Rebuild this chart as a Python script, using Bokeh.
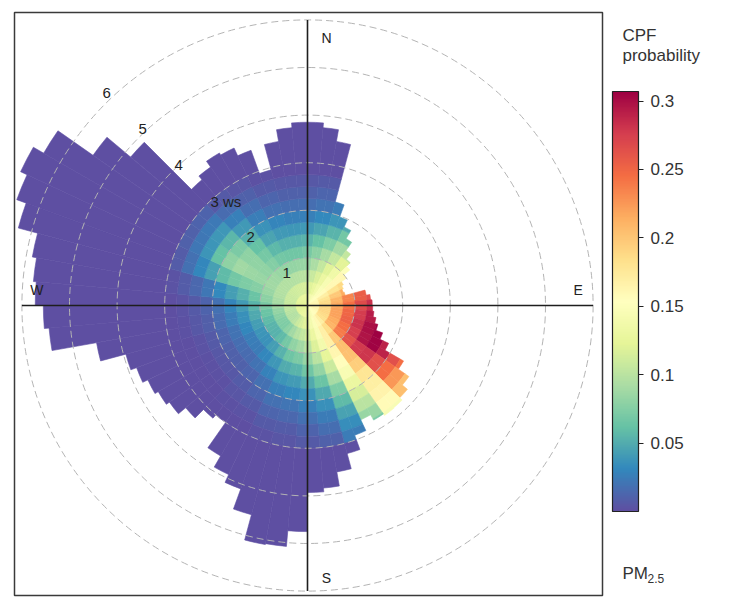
import math
from bokeh.plotting import figure
from bokeh.models import (ColumnDataSource, LinearColorMapper, ColorBar, FixedTicker,
                          CustomJSTickFormatter, Label, Range1d)
from bokeh.transform import transform
from bokeh.core.properties import value
from bokeh.embed import file_html
from bokeh.resources import INLINE

# ---------------- data ----------------
# CPF probability on a polar grid: rows = wind direction bins (centre, deg, 10 deg wide),
# columns = wind speed bins with the edges below (ws units)
COLOR_DIRS = list(range(0, 360, 10))
WS_EDGES = [0.0, 0.25, 0.5, 0.75, 1.0, 1.25, 1.5, 1.75, 2.0, 2.25, 2.5, 2.75, 3.0]
CPF = [
    [0.130, 0.115, 0.100, 0.085, 0.070, 0.055, 0.040, 0.027, 0.017, 0.010, 0.005, 0.000],  # 0
    [0.135, 0.120, 0.107, 0.093, 0.078, 0.062, 0.046, 0.032, 0.020, 0.012, 0.006, 0.000],  # 10
    [0.140, 0.128, 0.117, 0.105, 0.090, 0.072, 0.054, 0.038, 0.025, 0.015, 0.008, 0.000],  # 20
    [0.145, 0.137, 0.130, 0.120, 0.105, 0.088, 0.068, 0.050, 0.033, 0.020, 0.010, 0.000],  # 30
    [0.150, 0.147, 0.143, 0.135, 0.122, 0.105, 0.085, 0.065, 0.045, 0.030, 0.015, 0.000],  # 40
    [0.155, 0.157, 0.160, 0.160, 0.150, 0.130, 0.110, 0.090, 0.070, 0.050, 0.030, 0.000],  # 50
    [0.160, 0.170, 0.180, 0.188, 0.190, 0.180, 0.150, 0.120, 0.090, 0.060, 0.030, 0.000],  # 60
    [0.162, 0.180, 0.198, 0.215, 0.225, 0.220, 0.200, 0.150, 0.110, 0.070, 0.040, 0.000],  # 70
    [0.165, 0.187, 0.210, 0.235, 0.255, 0.265, 0.265, 0.240, 0.200, 0.150, 0.100, 0.000],  # 80
    [0.165, 0.190, 0.217, 0.243, 0.267, 0.282, 0.287, 0.270, 0.240, 0.200, 0.150, 0.000],  # 90
    [0.165, 0.190, 0.220, 0.250, 0.277, 0.293, 0.299, 0.290, 0.260, 0.220, 0.180, 0.000],  # 100
    [0.165, 0.190, 0.220, 0.252, 0.281, 0.299, 0.306, 0.298, 0.275, 0.245, 0.210, 0.000],  # 110
    [0.160, 0.187, 0.215, 0.245, 0.275, 0.297, 0.305, 0.290, 0.265, 0.245, 0.225, 0.000],  # 120
    [0.158, 0.183, 0.210, 0.238, 0.262, 0.278, 0.280, 0.265, 0.245, 0.225, 0.205, 0.190],  # 130
    [0.155, 0.170, 0.185, 0.198, 0.205, 0.203, 0.195, 0.178, 0.170, 0.165, 0.158, 0.145],  # 140
    [0.150, 0.160, 0.168, 0.168, 0.162, 0.155, 0.145, 0.130, 0.115, 0.100, 0.085, 0.070],  # 150
    [0.145, 0.148, 0.146, 0.138, 0.124, 0.108, 0.090, 0.073, 0.058, 0.045, 0.034, 0.025],  # 160
    [0.140, 0.138, 0.130, 0.118, 0.100, 0.082, 0.064, 0.048, 0.035, 0.025, 0.017, 0.010],  # 170
    [0.135, 0.128, 0.115, 0.100, 0.083, 0.066, 0.050, 0.037, 0.027, 0.018, 0.011, 0.006],  # 180
    [0.133, 0.120, 0.105, 0.088, 0.071, 0.055, 0.041, 0.030, 0.021, 0.014, 0.008, 0.004],  # 190
    [0.130, 0.115, 0.098, 0.081, 0.065, 0.050, 0.038, 0.027, 0.019, 0.012, 0.007, 0.003],  # 200
    [0.128, 0.108, 0.088, 0.069, 0.053, 0.039, 0.028, 0.019, 0.012, 0.007, 0.003, 0.001],  # 210
    [0.125, 0.100, 0.078, 0.058, 0.042, 0.030, 0.020, 0.013, 0.008, 0.004, 0.002, 0.000],  # 220
    [0.123, 0.097, 0.073, 0.053, 0.037, 0.025, 0.016, 0.010, 0.005, 0.002, 0.001, 0.000],  # 230
    [0.122, 0.097, 0.074, 0.054, 0.038, 0.026, 0.017, 0.010, 0.005, 0.002, 0.001, 0.000],  # 240
    [0.122, 0.099, 0.077, 0.058, 0.042, 0.030, 0.020, 0.012, 0.007, 0.003, 0.001, 0.000],  # 250
    [0.122, 0.102, 0.082, 0.064, 0.048, 0.035, 0.024, 0.016, 0.009, 0.005, 0.002, 0.000],  # 260
    [0.122, 0.105, 0.088, 0.071, 0.055, 0.041, 0.029, 0.019, 0.011, 0.006, 0.003, 0.000],  # 270
    [0.122, 0.107, 0.092, 0.078, 0.064, 0.052, 0.042, 0.032, 0.022, 0.014, 0.008, 0.003],  # 280
    [0.122, 0.108, 0.095, 0.084, 0.076, 0.072, 0.068, 0.058, 0.044, 0.030, 0.018, 0.008],  # 290
    [0.123, 0.109, 0.097, 0.088, 0.084, 0.086, 0.088, 0.080, 0.062, 0.038, 0.022, 0.010],  # 300
    [0.124, 0.110, 0.097, 0.087, 0.081, 0.081, 0.080, 0.071, 0.056, 0.039, 0.023, 0.011],  # 310
    [0.125, 0.111, 0.097, 0.084, 0.075, 0.069, 0.062, 0.052, 0.040, 0.027, 0.016, 0.007],  # 320
    [0.126, 0.112, 0.097, 0.082, 0.068, 0.057, 0.046, 0.036, 0.026, 0.017, 0.010, 0.004],  # 330
    [0.127, 0.113, 0.098, 0.082, 0.066, 0.052, 0.040, 0.029, 0.019, 0.012, 0.006, 0.002],  # 340
    [0.128, 0.114, 0.099, 0.083, 0.067, 0.052, 0.039, 0.027, 0.017, 0.010, 0.005, 0.001],  # 350
]
CPF_BEYOND_3WS = 0.0  # probability in the outer (purple) area

# furthest wind speed reached by the surface, per 5-degree direction bin (bin start, deg)
EXTENT_DIRS = list(range(0, 360, 5))
EXTENT_WS = [
    3.85, 3.75, 3.50, 2.25, 1.98, 1.82, 1.62, 1.41, 1.27, 1.16, 1.00, 0.87,   # 0-55
    0.83, 0.80, 0.82, 1.25, 1.33, 1.36, 1.37, 1.40, 1.46, 1.53, 1.68, 1.88,   # 60-115
    2.33, 2.60, 2.74, 2.81, 2.82, 2.78, 2.65, 2.90, 3.22, 3.55, 3.85, 3.93,   # 120-175
    4.75, 5.08, 5.10, 4.55, 4.10, 3.92, 3.65, 3.00, 3.09, 3.34, 3.54, 3.62,   # 180-235
    3.70, 3.82, 3.95, 4.50, 5.45, 5.55, 5.72, 5.78, 5.87, 6.29, 6.50, 6.65,   # 240-295
    6.40, 5.50, 4.85, 3.45, 3.55, 3.70, 3.65, 3.47, 2.95, 3.50, 3.75, 3.85,   # 300-355
]

RINGS = [1, 2, 3, 4, 5, 6]
RING_LABELS = ["1", "2", "3 ws", "4", "5", "6"]
COMPASS = ["N", "E", "S", "W"]
COMPASS_DIRS = [0, 90, 180, 270]
CBAR_TICKS = [0.05, 0.1, 0.15, 0.2, 0.25, 0.3]
CBAR_LOW, CBAR_HIGH = 0.0, 0.307
LEGEND_TITLE = ["CPF", "probability"]
POLLUTANT = ("PM", "2.5")

# ---------------- layout / style ----------------
W, H = 737, 598
S = 47.6                 # pixels per ws unit
CX, CY = 307, 305        # plot centre in figure pixels (from top-left)
FONT = "Liberation Sans"
SPECTRAL = ["#5e4fa2", "#3288bd", "#66c2a5", "#abdda4", "#e6f598", "#ffffbf",
            "#fee08b", "#fdae61", "#f46d43", "#d53e4f", "#9e0142"]


def smooth_palette(cols, n=256):
    rgb = [tuple(int(c[i:i + 2], 16) for i in (1, 3, 5)) for c in cols]
    out = []
    for i in range(n):
        t = i / (n - 1) * (len(rgb) - 1)
        a = min(int(t), len(rgb) - 2)
        f = t - a
        c = tuple(round(rgb[a][j] + (rgb[a + 1][j] - rgb[a][j]) * f) for j in range(3))
        out.append("#%02x%02x%02x" % c)
    return out


mapper = LinearColorMapper(palette=smooth_palette(SPECTRAL), low=CBAR_LOW, high=CBAR_HIGH)

p = figure(width=W, height=H, output_backend="svg", toolbar_location=None,
           x_range=Range1d(-CX / S, (W - CX) / S), y_range=Range1d(-(H - CY) / S, CY / S),
           x_axis_type=None, y_axis_type=None, min_border=0, outline_line_color=None,
           background_fill_color="white", border_fill_color="white")

# ---- polar surface cells ----
cells = dict(inner=[], outer=[], start=[], end=[], v=[])


def add_cell(r0, r1, a0, a1, v):
    cells["inner"].append(r0)
    cells["outer"].append(r1)
    cells["start"].append(a0)
    cells["end"].append(a1)
    cells["v"].append(v)


for j, d0 in enumerate(EXTENT_DIRS):
    d1 = d0 + 5
    ext = EXTENT_WS[j]
    ci = int(round((d0 + 2.5) / 10.0)) % len(COLOR_DIRS)
    a0, a1 = math.radians(90 - d1), math.radians(90 - d0)
    for k in range(len(WS_EDGES) - 1):
        r0, r1 = WS_EDGES[k], WS_EDGES[k + 1]
        if r0 >= ext:
            break
        add_cell(r0, min(r1, ext), a0, a1, CPF[ci][k])
    if ext > WS_EDGES[-1]:
        add_cell(WS_EDGES[-1], ext, a0, a1, CPF_BEYOND_3WS)

p.annular_wedge(x=0, y=0, inner_radius="inner", outer_radius="outer",
                start_angle="start", end_angle="end", source=ColumnDataSource(cells),
                fill_color=transform("v", mapper), line_color=transform("v", mapper),
                line_width=0.6)

# ---- grid rings and cross ----
p.circle(x=[0] * len(RINGS), y=[0] * len(RINGS), radius=RINGS, fill_color=None,
         line_color="#b4b4b4", line_width=1, line_dash="7 4")
R = max(RINGS)
p.segment(x0=[-R, 0], y0=[0, -R], x1=[R, 0], y1=[0, R], line_color="#1e1e1e", line_width=1.6)

# ---- ring labels (at 1.07 x ring, 315 deg) ----
ang = math.radians(315)
p.text(x=[1.07 * r * math.sin(ang) for r in RINGS], y=[1.07 * r * math.cos(ang) for r in RINGS],
       text=RING_LABELS, text_font=value(FONT), text_font_size="15px", text_color="#222222",
       text_align="left", text_baseline="middle", x_offset=11, y_offset=4)

# ---- compass labels ----
offs = {"N": (19, 18), "E": (-15, -16), "S": (19, -13), "W": (15, -16)}
csrc = ColumnDataSource(dict(
    x=[R * math.sin(math.radians(d)) for d in COMPASS_DIRS],
    y=[R * math.cos(math.radians(d)) for d in COMPASS_DIRS],
    t=COMPASS, dx=[offs[c][0] for c in COMPASS], dy=[offs[c][1] for c in COMPASS]))
p.text(x="x", y="y", text="t", source=csrc, x_offset="dx", y_offset="dy",
       text_font=value(FONT), text_font_size="14px", text_color="#222222",
       text_align="center", text_baseline="middle")

# ---- panel border ----
p.quad(left=(14 - CX) / S, right=(602 - CX) / S, top=(CY - 12) / S, bottom=(CY - 595) / S,
       fill_color=None, line_color="#3a3a3a", line_width=1.5)

# ---- colour bar ----
cb = ColorBar(color_mapper=mapper, location=(612, 87), width=26, height=420,
              padding=0, margin=0, title=None,
              ticker=FixedTicker(ticks=CBAR_TICKS),
              formatter=CustomJSTickFormatter(code="return String(Math.round(tick*100)/100)"),
              major_label_text_font=FONT, major_label_text_font_size="17px",
              major_label_text_color="#333333", major_tick_line_color="#222222",
              major_tick_out=5, major_tick_in=0, minor_tick_line_color=None,
              bar_line_color="#222222", bar_line_width=1.2, label_standoff=7,
              background_fill_alpha=0, border_line_color=None)
p.add_layout(cb, "center")

for txt, yy in zip(LEGEND_TITLE, (563, 543)):
    p.add_layout(Label(x=622, y=yy, x_units="screen", y_units="screen", text=txt,
                       text_font=FONT, text_font_size="17px", text_color="#333333",
                       text_align="left", text_baseline="middle"))
p.add_layout(Label(x=622, y=25, x_units="screen", y_units="screen", text=POLLUTANT[0],
                   text_font=FONT, text_font_size="17px", text_color="#333333",
                   text_align="left", text_baseline="middle"))
p.add_layout(Label(x=647, y=20, x_units="screen", y_units="screen", text=POLLUTANT[1],
                   text_font=FONT, text_font_size="12px", text_color="#333333",
                   text_align="left", text_baseline="middle"))

open("out.html", "w").write(file_html(p, INLINE))
